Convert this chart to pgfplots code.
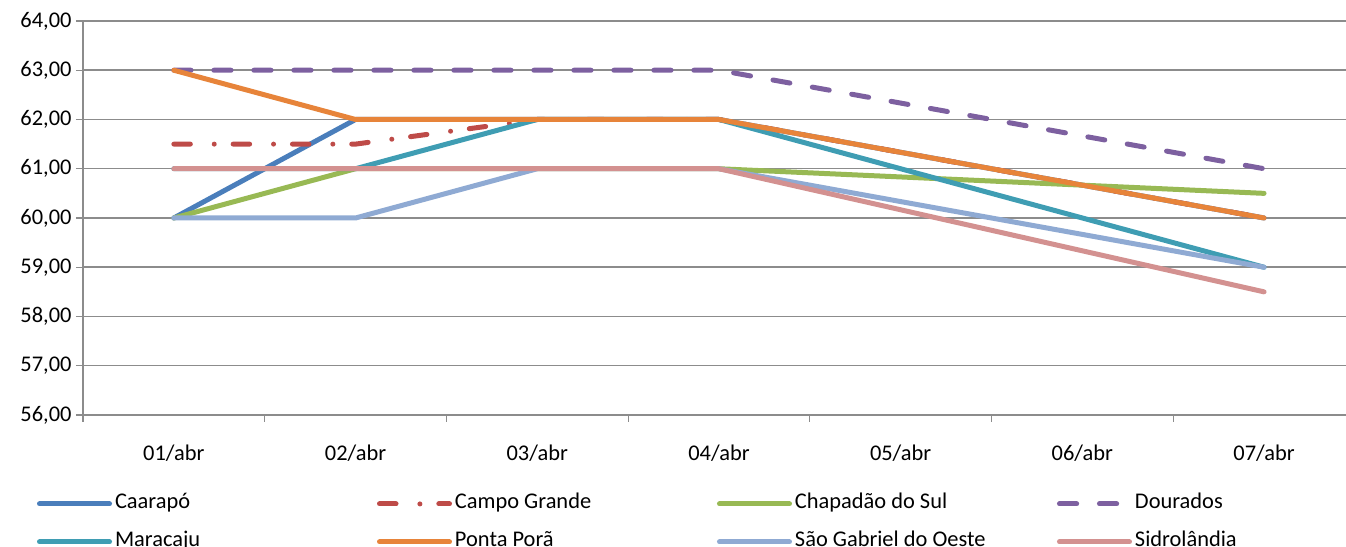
\documentclass[border=0pt]{standalone}
\usepackage{pgfplots}
\pgfplotsset{compat=1.18}
\usepackage{fontspec}
\setmainfont{Carlito}

\definecolor{cCaa}{HTML}{4A7EBB}
\definecolor{cCam}{HTML}{BE4B48}
\definecolor{cCha}{HTML}{98B954}
\definecolor{cDou}{HTML}{7D60A0}
\definecolor{cMar}{HTML}{3F9DB3}
\definecolor{cPon}{HTML}{E7843A}
\definecolor{cSao}{HTML}{8FAAD3}
\definecolor{cSid}{HTML}{D39190}
\definecolor{gridc}{HTML}{8C8C8C}

\newcommand{\lt}[1]{\makebox[259bp][l]{#1}}

\begin{document}
\begin{tikzpicture}
\begin{axis}[
  name=ax,
  scale only axis,
  width=1263bp, height=394bp,
  xmin=-0.5, xmax=6.451,
  ymin=56, ymax=64,
  ytick={56,57,...,64},
  xtick={0,...,6},
  xticklabels={01/abr,02/abr,03/abr,04/abr,05/abr,06/abr,07/abr},
  minor xtick={-0.5,0.5,...,5.5},
  major x tick style={draw=none},
  tick align=outside,
  major tick length=7bp, minor tick length=7bp,
  every tick/.style={gridc, line width=1.2bp},
  axis lines*=left,
  axis line style={gridc, line width=1.5bp, -},
  ymajorgrids,
  grid style={gridc, line width=1.5bp},
  font=\fontsize{22.5}{26}\selectfont,
  /pgf/number format/assume math mode=true,
  yticklabel={\pgfmathprintnumber[fixed,fixed zerofill,precision=2,use comma]{\tick}},
  yticklabel style={xshift=-1bp},
  xticklabel style={anchor=center, yshift=-31bp},
  legend columns=4,
  legend style={draw=none, fill=none, inner sep=0pt, outer sep=0pt,
    at={(axis description cs:-0.0364,-0.274)}, anchor=west,
    font=\fontsize{22.5}{26}\selectfont,
    nodes={inner sep=3bp, text height=15bp, text depth=5bp},
    row sep=12bp, column sep=0pt},
  legend image code/.code={\draw[#1] (0bp,0bp) -- (70bp,0bp);},
  every axis plot/.append style={line width=5bp, line cap=round, line join=round},
  clip=false,
]
\addplot[cCaa] coordinates {(0,60) (1,62) (2,62) (3,62) (6,60)};
\addlegendentry{\lt{Caarapó}}
\addplot[cCam, dash pattern=on 16.5bp off 23.9bp on 0bp off 18.9bp] coordinates {(0,61.5) (1,61.5) (2,62) (3,62) (6,60)};
\addlegendentry{\lt{Campo Grande}}
\addplot[cCha] coordinates {(0,60) (1,61) (2,61) (3,61) (6,60.5)};
\addlegendentry{\lt{Chapadão do Sul}}
\addplot[cDou, dash pattern=on 17.2bp off 22.8bp] coordinates {(0,63) (1,63) (2,63) (3,63) (6,61)};
\addlegendentry{\lt{Dourados}}
\addplot[cMar] coordinates {(0,61) (1,61) (2,62) (3,62) (6,59)};
\addlegendentry{\lt{Maracaju}}
\addplot[cPon] coordinates {(0,63) (1,62) (2,62) (3,62) (6,60)};
\addlegendentry{\lt{Ponta Porã}}
\addplot[cSao] coordinates {(0,60) (1,60) (2,61) (3,61) (6,59)};
\addlegendentry{\lt{São Gabriel do Oeste}}
\addplot[cSid] coordinates {(0,61) (1,61) (2,61) (3,61) (6,58.5)};
\addlegendentry{\lt{Sidrolândia}}
\end{axis}
\pgfresetboundingbox
\path ([xshift=-83bp,yshift=-132bp]ax.south west) rectangle ([yshift=21bp]ax.north east);
\end{tikzpicture}
\end{document}
